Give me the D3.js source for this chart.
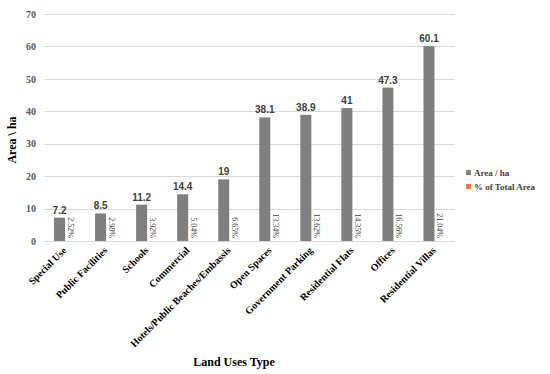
<!DOCTYPE html>
<html>
<head>
<meta charset="utf-8">
<script src="https://cdn.jsdelivr.net/npm/d3@7"></script>
<style>
  html, body { margin: 0; padding: 0; background: #fff; }
  svg { display: block; }
</style>
</head>
<body>
<svg id="chart" width="550" height="374"></svg>
<script>
const categories = ["Special Use", "Public Facilities", "Schools", "Commercial",
  "Hotels/Public Beaches/Embassis", "Open Spaces", "Government Parking",
  "Residential Flats", "Offices", "Residential Villas"];
const areaValues = [7.2, 8.5, 11.2, 14.4, 19, 38.1, 38.9, 41, 47.3, 60.1];
const percentValues = [0.0252, 0.0298, 0.0392, 0.0504, 0.0665, 0.1334, 0.1362, 0.1435, 0.1656, 0.2104];
const yTicks = [0, 10, 20, 30, 40, 50, 60, 70];
const seriesNames = ["Area / ha", "% of Total Area"];
const seriesColors = ["#7f7f7f", "#ed7d31"];

const svg = d3.select("#chart");
const plot = { left: 44.5, right: 455, top: 14, bottom: 241 };
const serif = "'Liberation Serif', 'Times New Roman', serif";
const sans = "'Liberation Sans', Arial, sans-serif";

const x0 = d3.scaleBand().domain(categories).range([plot.left, plot.right])
  .paddingInner(0.464).paddingOuter(0.232);
const x1 = d3.scaleBand().domain([0, 1]).range([0, x0.bandwidth()]);
const y = d3.scaleLinear().domain([0, 70]).range([plot.bottom, plot.top]);

// gridlines
svg.append("g").selectAll("line").data(yTicks).join("line")
  .attr("x1", plot.left).attr("x2", plot.right)
  .attr("y1", d => Math.round(y(d)) + 0.5).attr("y2", d => Math.round(y(d)) + 0.5)
  .attr("stroke", "#d9d9d9").attr("stroke-width", 1);

// y axis labels
const yAxis = d3.axisLeft(y).tickValues(yTicks).tickSize(0).tickPadding(0);
const gy = svg.append("g").attr("transform", `translate(36,0)`).call(yAxis);
gy.select(".domain").remove();
gy.selectAll("text").attr("font-family", serif).attr("font-weight", "bold")
  .attr("font-size", 10).attr("fill", "#595959");

// bars
const groups = svg.append("g").selectAll("g").data(categories).join("g")
  .attr("transform", d => `translate(${x0(d)},0)`);

groups.append("rect")
  .attr("x", x1(0)).attr("width", x1.bandwidth())
  .attr("y", (d, i) => y(areaValues[i]))
  .attr("height", (d, i) => y(0) - y(areaValues[i]))
  .attr("fill", seriesColors[0]);

// second series (fractions) is sub-pixel tall on this scale: drawn with crisp edges so it vanishes as in the reference
groups.append("rect")
  .attr("x", x1(1)).attr("width", x1.bandwidth())
  .attr("y", (d, i) => y(percentValues[i]))
  .attr("height", (d, i) => Math.floor(y(0) - y(percentValues[i])))
  .attr("shape-rendering", "crispEdges")
  .attr("fill", seriesColors[1]);

// value labels
groups.append("text")
  .attr("x", x1(0) + x1.bandwidth() / 2)
  .attr("y", (d, i) => y(areaValues[i]) - 4)
  .attr("text-anchor", "middle")
  .attr("font-family", sans).attr("font-weight", "bold").attr("font-size", 10)
  .attr("fill", "#404040")
  .text((d, i) => areaValues[i]);

// percent labels (rotated)
groups.append("text")
  .attr("transform", (d, i) => `translate(${x1(1) + x1.bandwidth() / 2},${y(0) - 3}) rotate(90)`)
  .attr("text-anchor", "end")
  .attr("dominant-baseline", "central")
  .attr("font-family", serif).attr("font-size", 8)
  .attr("fill", "#404040")
  .text((d, i) => (percentValues[i] * 100).toFixed(2) + "%");

// x axis line
svg.append("line").attr("x1", plot.left).attr("x2", plot.right)
  .attr("y1", plot.bottom + 0.5).attr("y2", plot.bottom + 0.5)
  .attr("stroke", "#d9d9d9");

// x tick labels
const xAxis = d3.axisBottom(x0).tickSize(0).tickPadding(0);
const gx = svg.append("g").attr("transform", `translate(0,${plot.bottom})`).call(xAxis);
gx.select(".domain").remove();
gx.selectAll("text")
  .attr("font-family", serif).attr("font-weight", "bold").attr("font-size", 10)
  .attr("fill", "#000").attr("text-anchor", "end")
  .attr("dy", null).attr("y", 0)
  .attr("transform", "translate(2,10) rotate(-45)");

// axis titles
svg.append("text").attr("transform", "translate(16,140) rotate(-90)")
  .attr("text-anchor", "middle").attr("font-family", serif).attr("font-weight", "bold")
  .attr("font-size", 12).attr("fill", "#000").text("Area \\ ha");

svg.append("text").attr("x", 234).attr("y", 366)
  .attr("text-anchor", "middle").attr("font-family", serif).attr("font-weight", "bold")
  .attr("font-size", 12).attr("fill", "#000").text("Land Uses Type");

// legend
const legend = svg.append("g").selectAll("g").data(seriesNames).join("g")
  .attr("transform", (d, i) => `translate(466,${173 + i * 14})`);
legend.append("rect").attr("x", 0).attr("y", -3).attr("width", 5).attr("height", 5)
  .attr("fill", (d, i) => seriesColors[i]);
legend.append("text").attr("x", 8).attr("y", 0).attr("dominant-baseline", "central")
  .attr("font-family", serif).attr("font-weight", "bold").attr("font-size", 9)
  .attr("fill", "#404040").text(d => d);
</script>
</body>
</html>
